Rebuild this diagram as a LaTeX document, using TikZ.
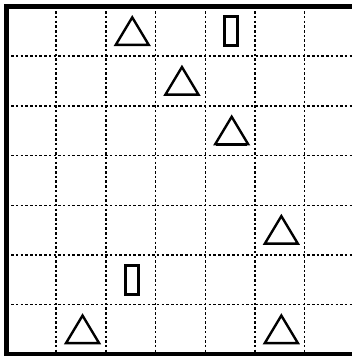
\documentclass[tikz,border=0pt]{standalone}
\begin{document}
\begin{tikzpicture}[x=1pt,y=-1pt,
  gridline/.style={line width=1.5pt, dash pattern=on 2.5pt off 2.2pt, black},
  frame/.style={line width=5pt, line join=miter},
  tri/.style={line width=2.4pt, line join=miter, miter limit=10},
  bar/.style={line width=2.8pt},
  tripic/.pic={\draw[tri] (0,-14) -- (16.5,13.5) -- (-16.5,13.5) -- cycle;
               \draw[line width=1pt] (-15.5,14.3) -- (15.5,14.3);},
  barpic/.pic={\draw[bar] (-6.5,-14.5) rectangle (6.5,14.5);}]
\useasboundingbox (0,0) rectangle (352,356);
\fill[white] (0,0) rectangle (352,356);
\foreach \k in {1,...,6} {
  \draw[gridline] ({6.5+\k*49.7},6.5) -- ({6.5+\k*49.7},354.4);
  \draw[gridline] (6.5,{6.5+\k*49.7}) -- (352,{6.5+\k*49.7});
}
\draw[frame] (352,6.5) -- (6.5,6.5) -- (6.5,354.4) -- (352,354.4);
\foreach \r/\c [count=\i] in {0/2,1/3,2/4,4/5,6/1,6/5} {
  \pic (t\i) at ({6.5+49.7*(\c+0.5)+1.5},{6.5+49.7*(\r+0.5)}) {tripic};
}
\foreach \r/\c [count=\i] in {0/4,5/2} {
  \pic (b\i) at ({6.5+49.7*(\c+0.5)+1},{6.5+49.7*(\r+0.5)}) {barpic};
}
\end{tikzpicture}
\end{document}
